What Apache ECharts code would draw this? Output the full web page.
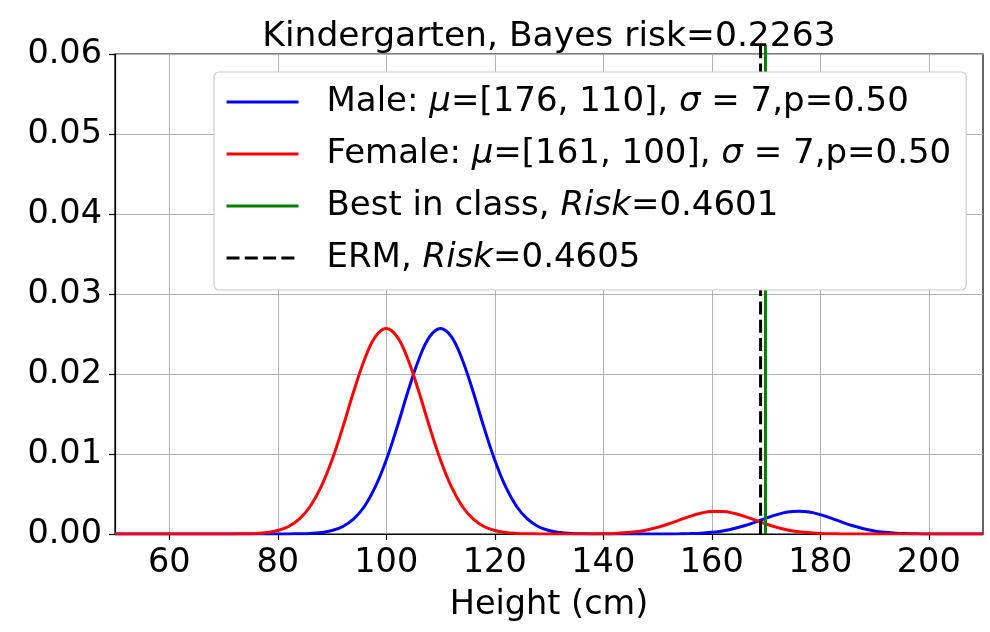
<!DOCTYPE html>
<html>
<head>
<meta charset="utf-8">
<script src="https://cdn.jsdelivr.net/npm/echarts@6/dist/echarts.min.js"></script>
<style>
  html, body { margin: 0; padding: 0; background: #fff; }
  #chart { width: 990px; height: 632px; }
</style>
</head>
<body>
<div id="chart"></div>
<script>
// Height grid (cm) on which the class densities are sampled
const heights = [
  50, 52, 54, 56, 58, 60, 62, 64, 66, 68,
  70, 72, 74, 76, 78, 80, 82, 84, 86, 88,
  90, 92, 94, 96, 98, 100, 102, 104, 106, 108,
  110, 112, 114, 116, 118, 120, 122, 124, 126, 128,
  130, 132, 134, 136, 138, 140, 142, 144, 146, 148,
  150, 152, 154, 156, 158, 160, 162, 164, 166, 168,
  170, 172, 174, 176, 178, 180, 182, 184, 186, 188,
  190, 192, 194, 196, 198, 200, 202, 204, 206, 208,
  210
];

// Male weighted density
const maleDensity = [
  0, 0, 0, 0, 0, 0, 0, 0, 0, 0,
  0, 0, 0, 0, 0, 0, 0.00001, 0.00003, 0.00007, 0.00018,
  0.00043, 0.00094, 0.00189, 0.00347, 0.00591, 0.00925, 0.01336, 0.01781, 0.02182, 0.02467,
  0.0257, 0.02467, 0.02182, 0.01781, 0.01336, 0.00925, 0.00591, 0.00347, 0.00189, 0.00094,
  0.00043, 0.00018, 0.00007, 0.00003, 0.00001, 0, 0, 0, 0, 0,
  0, 0.00001, 0.00002, 0.00005, 0.0001, 0.00021, 0.00038, 0.00066, 0.00103, 0.00148,
  0.00198, 0.00242, 0.00274, 0.00285, 0.00274, 0.00242, 0.00198, 0.00148, 0.00103, 0.00066,
  0.00038, 0.00021, 0.0001, 0.00005, 0.00002, 0.00001, 0, 0, 0, 0,
  0
];

// Female weighted density
const femaleDensity = [
  0, 0, 0, 0, 0, 0, 0, 0, 0, 0,
  0, 0.00001, 0.00003, 0.00007, 0.00018, 0.00043, 0.00094, 0.00189, 0.00347, 0.00591,
  0.00925, 0.01336, 0.01781, 0.02182, 0.02467, 0.0257, 0.02467, 0.02182, 0.01781, 0.01336,
  0.00925, 0.00591, 0.00347, 0.00189, 0.00094, 0.00043, 0.00018, 0.00007, 0.00003, 0.00001,
  0, 0, 0, 0, 0, 0.00003, 0.00007, 0.00015, 0.00029, 0.00051,
  0.00083, 0.00125, 0.00173, 0.00221, 0.0026, 0.00282, 0.00282, 0.0026, 0.00221, 0.00173,
  0.00125, 0.00083, 0.00051, 0.00029, 0.00015, 0.00007, 0.00003, 0.00001, 0, 0,
  0, 0, 0, 0, 0, 0, 0, 0, 0, 0,
  0
];

// Decision thresholds (cm)
const bestInClassThreshold = 169.9;
const ermThreshold = 169.0;
const thresholdSpan = [0, 0.0611];

const seriesNames = [
  'Male: μ=[176, 110], σ = 7,p=0.50',
  'Female: μ=[161, 100], σ = 7,p=0.50',
  'Best in class, Risk=0.4601',
  'ERM, Risk=0.4605'
];
const titleText = 'Kindergarten, Bayes risk=0.2263';
const xTicks = [60, 80, 100, 120, 140, 160, 180, 200];
const yTicks = [0, 0.01, 0.02, 0.03, 0.04, 0.05, 0.06];
const xAxisTitle = 'Height (cm)';

const FONT = 'DejaVu Sans';
const FS = 33.5;
const LEGEND_FS = 34;
const LW = 3;
const DASH = [13, 5.3];

const zip = (xs, ys) => xs.map((x, i) => [x, ys[i]]);
const vline = (x) => thresholdSpan.map(y => [x, y]);

// Italicise the math symbols in legend labels
function legendLabel(name) {
  return name
    .replace('μ', '{it|μ}')
    .replace('σ', '{it|σ}')
    .replace('Risk', '{it|Risk}');
}

const chart = echarts.init(document.getElementById('chart'), null, { renderer: 'canvas' });

chart.setOption({
  animation: false,
  backgroundColor: '#ffffff',
  textStyle: { fontFamily: FONT },
  title: {
    text: titleText,
    left: 544,
    top: 15,
    textAlign: 'center',
    textStyle: { fontFamily: FONT, fontSize: 34.5, fontWeight: 'normal', color: '#000' }
  },
  grid: {
    left: 115, right: 7, top: 54, bottom: 98,
    show: true, borderColor: '#000', borderWidth: 1.2, backgroundColor: 'transparent'
  },
  legend: {
    orient: 'vertical',
    left: 214,
    top: 72,
    padding: [10, 15, 12, 11],
    itemWidth: 72,
    itemHeight: 14,
    itemGap: 12,
    backgroundColor: '#ffffff',
    borderColor: '#cccccc',
    borderWidth: 1.2,
    borderRadius: 5,
    data: seriesNames,
    formatter: legendLabel,
    itemStyle: { opacity: 0, borderWidth: 0 },
    lineStyle: { width: LW },
    textStyle: {
      fontFamily: FONT, fontSize: LEGEND_FS, color: '#000', lineHeight: 40,
      padding: [0, 0, 0, 23],
      rich: {
        it: { fontFamily: FONT, fontSize: LEGEND_FS, fontStyle: 'italic', color: '#000', lineHeight: 40 }
      }
    }
  },
  xAxis: {
    type: 'value',
    min: 50, max: 210, splitNumber: 8,
    name: xAxisTitle,
    nameLocation: 'middle',
    nameGap: 54,
    nameTextStyle: { fontFamily: FONT, fontSize: FS, color: '#000' },
    axisLine: { show: true, onZero: false, lineStyle: { color: '#000', width: 1.2 } },
    axisTick: { show: true, length: 6, customValues: xTicks, lineStyle: { color: '#000', width: 1.2 } },
    axisLabel: { customValues: xTicks, fontFamily: FONT, fontSize: FS, color: '#000', margin: 12 },
    splitLine: { show: true, lineStyle: { color: '#b0b0b0', width: 1 } }
  },
  yAxis: {
    type: 'value',
    min: 0, max: 0.06, interval: 0.01,
    axisLine: { show: true, lineStyle: { color: '#000', width: 1.2 } },
    axisTick: { show: true, length: 6, customValues: yTicks, lineStyle: { color: '#000', width: 1.2 } },
    axisLabel: {
      customValues: yTicks,
      fontFamily: FONT, fontSize: FS, color: '#000', margin: 13,
      formatter: v => v.toFixed(2)
    },
    splitLine: { show: true, lineStyle: { color: '#b0b0b0', width: 1 } }
  },
  series: [
    {
      name: seriesNames[0], type: 'line', data: zip(heights, maleDensity),
      smooth: 0.4, showSymbol: false, symbol: 'none',
      lineStyle: { color: '#0000ff', width: LW }, itemStyle: { color: '#0000ff' }, z: 3
    },
    {
      name: seriesNames[1], type: 'line', data: zip(heights, femaleDensity),
      smooth: 0.4, showSymbol: false, symbol: 'none',
      lineStyle: { color: '#ff0000', width: LW }, itemStyle: { color: '#ff0000' }, z: 3
    },
    {
      name: seriesNames[2], type: 'line', data: vline(bestInClassThreshold),
      showSymbol: false, symbol: 'none', clip: false,
      lineStyle: { color: '#008000', width: LW }, itemStyle: { color: '#008000' }, z: 3
    },
    {
      name: seriesNames[3], type: 'line', data: vline(ermThreshold),
      showSymbol: false, symbol: 'none', clip: false,
      lineStyle: { color: '#000000', width: LW, type: DASH }, itemStyle: { color: '#000000' }, z: 3
    }
  ]
});
</script>
</body>
</html>
